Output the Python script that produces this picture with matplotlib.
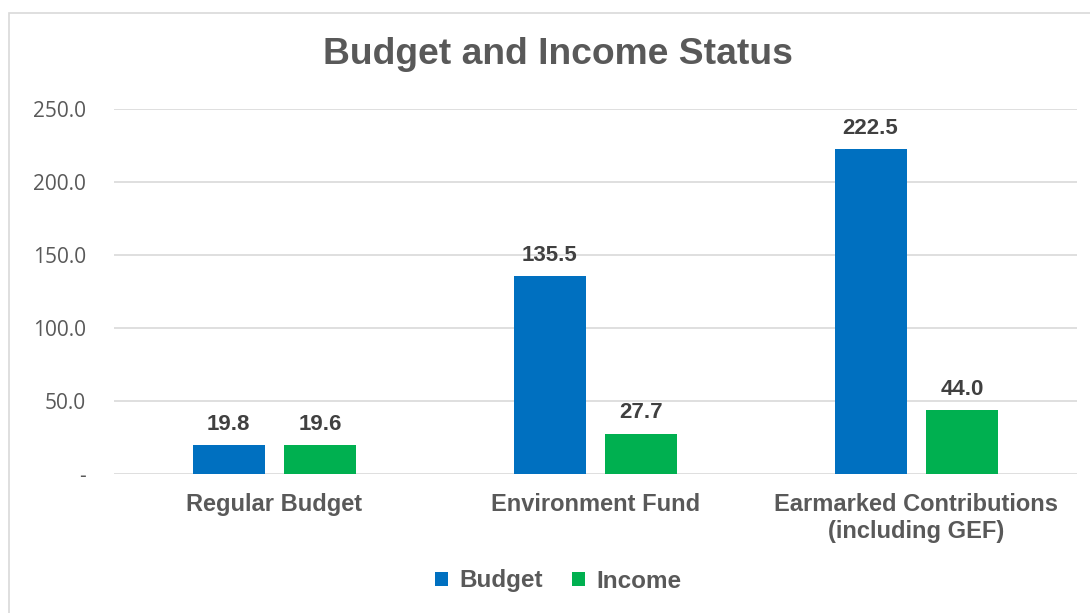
import matplotlib.pyplot as plt
from matplotlib.patches import Rectangle
import numpy as np

categories = ['Regular Budget', 'Environment Fund', 'Earmarked Contributions\n(including GEF)']
budget = [19.8, 135.5, 222.5]
income = [19.6, 27.7, 44.0]
yticks = [0, 50, 100, 150, 200, 250]
ytick_labels = ['-', '50.0', '100.0', '150.0', '200.0', '250.0']

blue = '#0070c0'
green = '#00b050'
grey = '#595959'

fig = plt.figure(figsize=(10.9, 6.13), dpi=100)
ax = fig.add_axes([114/1090, 1 - 474/613, 963/1090, 365/613])

# chart frame (clipped on the right/bottom like the original)
fig.patches.append(Rectangle((9/1090, -0.1), 1.2, 1 - 13/613 + 0.1, transform=fig.transFigure,
                             fill=False, edgecolor='#d9d9d9', linewidth=1.2))

x = np.arange(len(categories))
w = 0.224
b1 = ax.bar(x - 0.143, budget, w, color=blue, label='Budget')
b2 = ax.bar(x + 0.142, income, w, color=green, label='Income')

for bars, vals in ((b1, budget), (b2, income)):
    for r, v in zip(bars, vals):
        ax.text(r.get_x() + r.get_width()/2, v + 7, f'{v:.1f}', ha='center', va='bottom',
                fontsize=16, fontweight='bold', color='#404040', family='Liberation Sans')

ax.set_xlim(-0.5, 2.5)
ax.set_ylim(0, 250)
ax.set_yticks(yticks)
ax.set_yticklabels(ytick_labels, fontsize=15, color=grey, family='Open Sans')
ax.set_xticks(x)
ax.set_xticklabels(categories, fontsize=17, fontweight='bold', color=grey, family='Liberation Sans',
                   linespacing=1.2, va='top')
ax.tick_params(axis='y', length=0, pad=20)
ax.tick_params(axis='x', length=0, pad=14)
ax.grid(axis='y', color='#d9d9d9', linewidth=1.2)
ax.set_axisbelow(True)
for s in ax.spines.values():
    s.set_visible(False)

fig.text(558/1090, 1 - 55/613, 'Budget and Income Status', ha='center', va='center',
         fontsize=26.8, fontweight='bold', color=grey, family='Liberation Sans')

leg = fig.legend(handles=[b1, b2], loc='center', bbox_to_anchor=(558/1090, 1 - 581/613), ncol=2,
                 frameon=False, handlelength=0.55, handleheight=0.55, columnspacing=1.2, handletextpad=0.45,
                 prop={'family': 'Liberation Sans', 'weight': 'bold', 'size': 17.5})
for t in leg.get_texts():
    t.set_color(grey)

plt.savefig('out.png', dpi=100)
